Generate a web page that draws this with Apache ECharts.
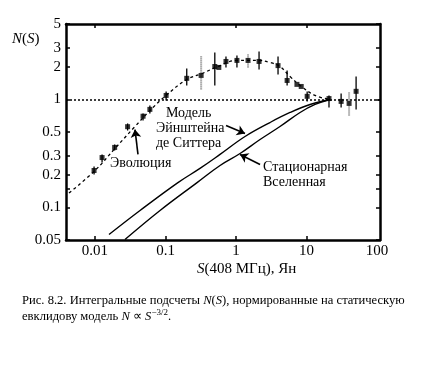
<!DOCTYPE html>
<html style="height: 100%">
<head>
<meta charset="utf-8">
</head>
<body style="height: 100%; margin: 0; background: #fff">
<div id="container" style="width: 439px; height: 375px"></div>
<script type="text/javascript" src="https://cdn.jsdelivr.net/npm/echarts@6/dist/echarts.min.js"></script>
<script type="text/javascript">
var FONT = 'Liberation Serif';

// tick labels
var xTicks = [0.01, 0.1, 1, 10, 100];
var xTickMarks = [0.01, 0.1, 1, 10];
var xTopTickMarks = [0.01, 1, 10];
var yTicks = [0.05, 0.1, 0.2, 0.3, 0.5, 1, 2, 3, 5];
var yTickMarks = [0.05, 0.1, 0.15, 0.2, 0.3, 0.5, 1, 2, 3, 5];

// observed counts N(S)
var obsS = [0.0097, 0.0126, 0.019, 0.029, 0.048, 0.060, 0.102, 0.20, 0.32, 0.50, 0.57, 0.72,
            1.03, 1.48, 2.12, 3.94, 5.3, 7.3, 8.4, 10.2, 20.8, 30.9, 40.1, 50.4];
var obsN = [0.22, 0.29, 0.36, 0.56, 0.70, 0.81, 1.09, 1.57, 1.67, 2.02, 1.98, 2.25,
            2.30, 2.30, 2.25, 2.06, 1.50, 1.38, 1.32, 1.07, 1.02, 0.96, 0.92, 1.19];
var errLo = [0.202, 0.261, 0.337, 0.516, 0.639, 0.742, 0.979, 1.35, 1.24, 1.35, null, 1.98,
             1.98, 1.98, 1.90, 1.70, 1.35, null, null, 0.958, 0.843, 0.843, 0.711, 0.808];
var errHi = [0.240, 0.310, 0.383, 0.600, 0.742, 0.880, 1.186, 1.94, 2.55, 2.72, null, 2.50,
             2.55, 2.61, 2.78, 2.50, 1.86, null, null, 1.186, 1.089, 1.137, 1.186, 1.633];
var errDotted = [0, 0, 0, 0, 0, 0, 0, 0, 1, 0, 0, 0,
                 0, 1, 0, 0, 0, 0, 0, 0, 0, 0, 1, 0];

// dashed evolution fit
var fitS = [0.00428, 0.01, 0.0192, 0.0369, 0.0603, 0.1016, 0.20, 0.33, 0.556, 1.03, 2.05, 3.03, 4.2, 5.83, 8.09, 13.2, 21.5];
var fitN = [0.136, 0.22, 0.352, 0.562, 0.791, 1.09, 1.53, 1.74, 2.02, 2.30, 2.30, 2.20, 2.02, 1.63, 1.35, 1.09, 1.0];

// Einstein - de Sitter model
var edsS = [0.0158, 0.0435, 0.150, 0.308, 0.593, 1.34, 3.03, 5.83, 11.2, 21.5];
var edsN = [0.0562, 0.0938, 0.170, 0.230, 0.310, 0.454, 0.612, 0.758, 0.899, 1.0];

// steady state universe
var stS = [0.0266, 0.0836, 0.280, 0.593, 1.14, 2.19, 4.2, 8.09, 13.2, 21.5];
var stN = [0.0505, 0.0938, 0.170, 0.245, 0.316, 0.426, 0.562, 0.758, 0.899, 1.0];

// arrows: [fromS, fromN, toS, toN]
var arrows = [
    [0.721, 0.574, 1.34, 0.484],
    [2.19, 0.250, 1.14, 0.31],
    [0.0407, 0.31, 0.0369, 0.527]
];

function zip(a, b) {
    return a.map(function (v, i) { return [v, b[i]]; });
}

var errData = [];
obsS.forEach(function (s, i) {
    if (errLo[i] != null) errData.push([s, errLo[i], errHi[i], errDotted[i]]);
});

function fmt(v) {
    return String(parseFloat(Number(v).toPrecision(2)));
}

var rich = {
    i: { fontStyle: 'italic', fontFamily: FONT, fontSize: 15, fill: '#000' },
    n: { fontFamily: FONT, fontSize: 15, fill: '#000' },
    ci: { fontStyle: 'italic', fontFamily: FONT, fontSize: 12.6, fill: '#000' },
    c: { fontFamily: FONT, fontSize: 12.6, fill: '#000' },
    sup: { fontFamily: FONT, fontSize: 9, fill: '#000', padding: [0, 0, 8, 0] }
};

function txt(x, y, text, size) {
    return {
        type: 'text', x: x, y: y, silent: true,
        style: { text: text, fill: '#000', fontFamily: FONT, fontSize: size, verticalAlign: 'middle', rich: rich }
    };
}

var axisLine = { show: true, lineStyle: { color: '#000', width: 2.5 } };

var dom = document.getElementById('container');
var myChart = echarts.init(dom);

var option = {
    backgroundColor: '#fff',
    animation: false,
    grid: { left: 66, right: 59, top: 24, bottom: 135, containLabel: false, outerBoundsMode: 'none' },
    xAxis: [
        {
            type: 'log', position: 'bottom', min: 0.00388, max: 110,
            axisLine: axisLine,
            axisTick: { show: true, inside: true, length: 4, customValues: xTickMarks, lineStyle: { color: '#000', width: 1.5 } },
            axisLabel: { customValues: xTicks, formatter: fmt, color: '#000', fontFamily: FONT, fontSize: 15, margin: 4 },
            splitLine: { show: false }, minorTick: { show: false }
        },
        {
            type: 'log', position: 'top', min: 0.00388, max: 110,
            axisLine: axisLine,
            axisTick: { show: true, inside: true, length: 4, customValues: xTopTickMarks, lineStyle: { color: '#000', width: 1.5 } },
            axisLabel: { show: false },
            splitLine: { show: false }
        }
    ],
    yAxis: [
        {
            type: 'log', position: 'left', min: 0.05, max: 5,
            axisLine: axisLine,
            axisTick: { show: true, inside: true, length: 4, customValues: yTickMarks, lineStyle: { color: '#000', width: 1.5 } },
            axisLabel: { customValues: yTicks, formatter: fmt, color: '#000', fontFamily: FONT, fontSize: 15, margin: 5 },
            splitLine: { show: false }, minorTick: { show: false }
        },
        {
            type: 'log', position: 'right', min: 0.05, max: 5,
            axisLine: axisLine,
            axisTick: { show: true, inside: true, length: 4, customValues: yTickMarks, lineStyle: { color: '#000', width: 1.5 } },
            axisLabel: { show: false },
            splitLine: { show: false }
        }
    ],
    series: [
        {
            name: 'fit', type: 'line', smooth: 0.4, showSymbol: false, silent: true,
            data: zip(fitS, fitN),
            lineStyle: { color: '#000', width: 1.3, type: [3, 3] },
            markLine: {
                silent: true, symbol: 'none', label: { show: false },
                lineStyle: { color: '#000', width: 1.5, type: [2, 2] },
                data: [{ yAxis: 1 }]
            }
        },
        {
            name: 'eds', type: 'line', smooth: 0.4, showSymbol: false, silent: true,
            data: zip(edsS, edsN),
            lineStyle: { color: '#000', width: 1.4 }
        },
        {
            name: 'steady', type: 'line', smooth: 0.4, showSymbol: false, silent: true,
            data: zip(stS, stN),
            lineStyle: { color: '#000', width: 1.4 },
            markLine: {
                silent: true, symbol: ['none', 'arrow'], symbolSize: 8, label: { show: false },
                lineStyle: { color: '#000', width: 1.6, type: 'solid' },
                data: arrows.map(function (a) {
                    return [{ coord: [a[0], a[1]] }, { coord: [a[2], a[3]] }];
                })
            }
        },
        {
            name: 'err', type: 'custom', silent: true,
            data: errData,
            encode: { x: 0, y: [1, 2] },
            renderItem: function (params, api) {
                var x = api.value(0);
                var p1 = api.coord([x, api.value(1)]);
                var p2 = api.coord([x, api.value(2)]);
                var dotted = api.value(3) === 1;
                return {
                    type: 'line',
                    shape: { x1: p1[0], y1: p1[1], x2: p2[0], y2: p2[1] },
                    style: {
                        stroke: dotted ? '#777' : '#000',
                        lineWidth: dotted ? 2 : 1.3,
                        lineDash: dotted ? [1, 1] : null
                    }
                };
            },
            z: 3
        },
        {
            name: 'obs', type: 'scatter', symbol: 'rect', symbolSize: 5, silent: true,
            data: zip(obsS, obsN),
            itemStyle: { color: '#000' },
            z: 4
        }
    ],
    graphic: [
        txt(12, 39, '{i|N}{n|(}{i|S}{n|)}', 15),
        txt(166, 113, 'Модель', 14),
        txt(156, 128, 'Эйнштейна', 14),
        txt(156, 143, 'де Ситтера', 14),
        txt(110, 163, 'Эволюция', 14),
        txt(263, 167, 'Стационарная', 14),
        txt(263, 182, 'Вселенная', 14),
        txt(197, 269, '{i|S}{n|(408 МГц), Ян}', 15),
        txt(22, 301, '{c|Рис. 8.2. Интегральные подсчеты }{ci|N}{c|(}{ci|S}{c|), нормированные на статическую}', 12.6),
        txt(22, 317, '{c|евклидову модель }{ci|N}{c| ∝ }{ci|S}{sup|−3/2}{c|.}', 12.6)
    ]
};

myChart.setOption(option);
</script>
</body>
</html>
